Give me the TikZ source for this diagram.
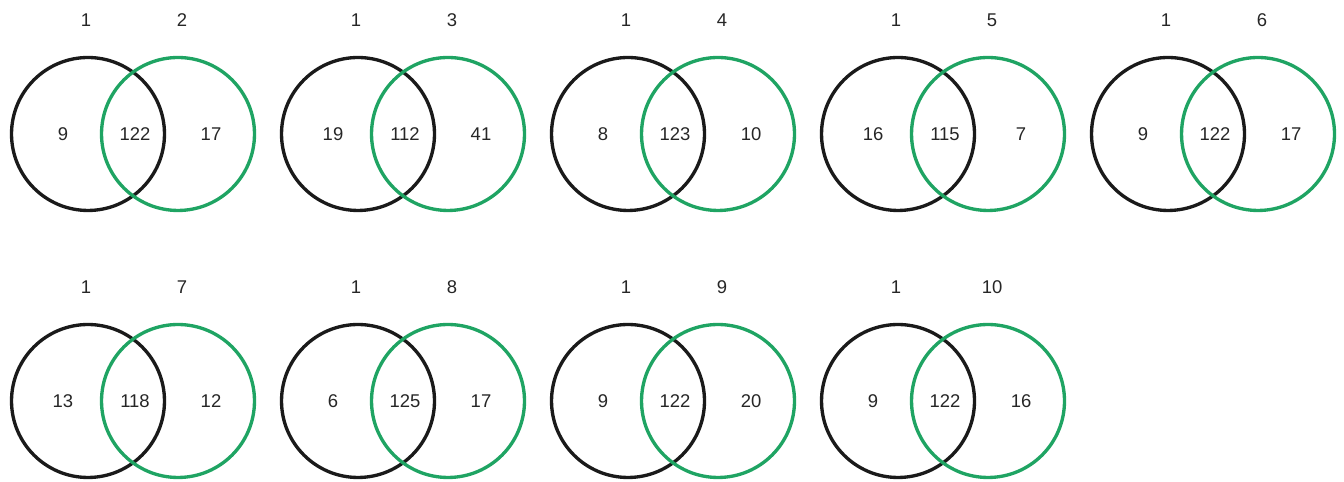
\documentclass[tikz,border=0pt]{standalone}
\usepackage{fontspec}
\setmainfont{Liberation Sans}
\usepackage{xcolor}
\usetikzlibrary{shapes, positioning}
\definecolor{vennblack}{HTML}{1A1A1A}
\definecolor{venngreen}{HTML}{1FA463}

\tikzset{
    setA/.style={circle, draw=vennblack, line width=1.9pt, minimum size=3.06cm, inner sep=0pt},
    setB/.style={circle, draw=venngreen, line width=1.9pt, minimum size=3.06cm, inner sep=0pt},
    setlabel/.style={font=\fontsize{10.5}{12}\selectfont, text=black!85},
    count/.style={font=\fontsize{10.5}{12}\selectfont, text=black!85}
}

\begin{document}
\begin{tikzpicture}[x=0.02cm, y=0.02cm]
\useasboundingbox (0,0) rectangle (1344,482);
% pairwise overlap of sample 1 with samples 2--10
\foreach \pos/\yc/\id/\onlyA/\shared/\onlyB [count=\i] in {%
    0/348/2/9/122/17, 1/348/3/19/112/41, 2/348/4/8/123/10,
    3/348/5/16/115/7, 4/348/6/9/122/17,
    0/81/7/13/118/12, 1/81/8/6/125/17, 2/81/9/9/122/20,
    3/81/10/9/122/16}
{
    \node[setA] (a\i) at ({88+\pos*270}, \yc) {};
    \node[setB] (b\i) at ({178+\pos*270}, \yc) {};
    \node[setlabel] (la\i) at ({86+\pos*270}, \yc+114) {1};
    \node[setlabel] (lb\i) at ({182+\pos*270}, \yc+114) {\id};
    \node[count] (na\i) at ({63+\pos*270}, \yc) {\onlyA};
    \node[count] (nab\i) at ({135+\pos*270}, \yc) {\shared};
    \node[count] (nb\i) at ({211+\pos*270}, \yc) {\onlyB};
}
\end{tikzpicture}
\end{document}
